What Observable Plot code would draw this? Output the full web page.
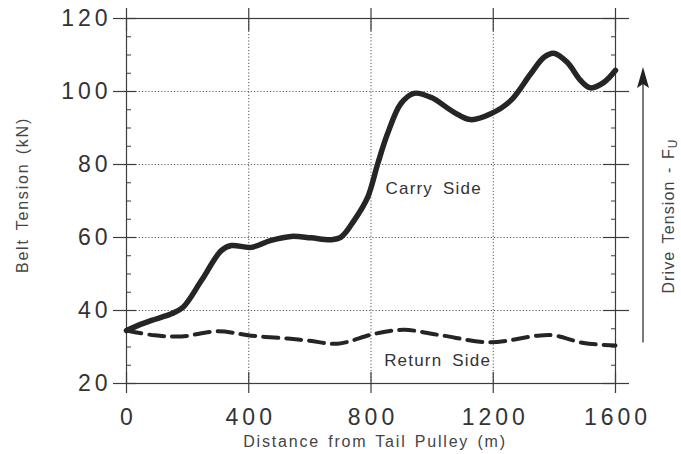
<!DOCTYPE html>
<html><head><meta charset="utf-8">
<script src="https://cdn.jsdelivr.net/npm/d3@7"></script>
<script src="https://cdn.jsdelivr.net/npm/@observablehq/plot@0.6"></script>
<style>
body{margin:0;background:#fff;}
svg text{font-family:"Liberation Sans",Arial,Helvetica,sans-serif;}
g[aria-label="y-axis tick label"] text, g[aria-label="x-axis tick label"] text{letter-spacing:4px;}
</style></head><body><div id="chart"></div>
<script>
// Carry side (solid)
const carryX = [0, 40, 82, 147, 185, 245, 310, 343, 408, 473, 539, 604, 669, 702, 745, 789, 822, 854, 898, 941, 996, 1072, 1126, 1192, 1257, 1322, 1366, 1398, 1442, 1486, 1518, 1562, 1600];
const carryY = [34.5, 36, 37.3, 39.1, 40.9, 48.2, 56.4, 57.8, 57.3, 59.2, 60.3, 59.9, 59.4, 60.1, 64.7, 71, 80.2, 88.4, 96.7, 99.5, 98.4, 94.3, 92.3, 93.9, 97.5, 104.8, 109.4, 110.5, 108, 103, 101, 102.5, 105.8];
// Return side (dashed)
const returnX = [0, 92, 180, 299, 408, 528, 600, 691, 811, 909, 1029, 1192, 1344, 1398, 1496, 1600];
const returnY = [34.5, 33.2, 32.9, 34.3, 33.1, 32.3, 31.7, 30.9, 33.6, 34.7, 33.2, 31.3, 33.1, 33.2, 31.1, 30.4];
// Ticks
const xTicks = [0, 400, 800, 1200, 1600];
const yTicks = [20, 40, 60, 80, 100, 120];
const yMinor = [25, 30, 35, 45, 50, 55, 65, 70, 75, 85, 90, 95, 105, 110, 115];
const xGrid = [400, 800, 1200];
const yGrid = [40, 60, 80, 100];
// Annotations
const curveLabels = ["Carry Side", "Return Side"];
const curveLabelX = [1005, 1018];
const curveLabelY = [73.4, 26.3];
const driveArrow = {x: 1690, from: 31.2, to: 104};

const carry = carryX.map((x, i) => ({x, y: carryY[i]}));
const ret = returnX.map((x, i) => ({x, y: returnY[i]}));

const lineColor = "#252525", axisColor = "#3c3c3c", textColor = "#333";
const arrowHead = {draw(ctx){ ctx.moveTo(0,-10); ctx.lineTo(6,11); ctx.lineTo(0,7); ctx.lineTo(-6,11); ctx.closePath(); }};

const chart = Plot.plot({
  width: 681, height: 454,
  marginLeft: 126, marginRight: 66, marginTop: 18, marginBottom: 71,
  x: {domain: [0, 1600]},
  y: {domain: [20, 120]},
  style: {background: "#fff", color: textColor, fontFamily: "Liberation Sans, Arial, sans-serif"},
  marks: [
    Plot.gridY(yGrid, {stroke: "#555", strokeOpacity: 1, strokeDasharray: "1.2,2"}),
    Plot.gridX(xGrid, {stroke: "#555", strokeOpacity: 1, strokeDasharray: "1.2,2"}),
    Plot.frame({stroke: axisColor, strokeWidth: 1.2}),
    // major crossing ticks
    Plot.axisY(yTicks, {anchor: "left", tickSize: 23, dx: 10, fill: "none", label: null, stroke: axisColor, strokeWidth: 1.2}),
    Plot.axisY(yTicks, {anchor: "right", tickSize: 26, dx: -13, fill: "none", label: null, stroke: axisColor, strokeWidth: 1.2}),
    Plot.axisX(xTicks, {anchor: "bottom", tickSize: 21, dy: -11, fill: "none", label: null, stroke: axisColor, strokeWidth: 1.2}),
    Plot.axisX(xTicks, {anchor: "top", tickSize: 23, dy: 12, fill: "none", label: null, stroke: axisColor, strokeWidth: 1.2}),
    // minor inward ticks
    Plot.axisY(yMinor, {anchor: "left", tickSize: 5, dx: 5, fill: "none", label: null, stroke: axisColor}),
    Plot.axisY(yMinor, {anchor: "right", tickSize: 5, dx: -5, fill: "none", label: null, stroke: axisColor}),
    // tick labels
    Plot.axisY(yTicks, {anchor: "left", tickSize: 0, tickPadding: 15, fontSize: 23, tickFormat: d => String(d), label: null, fill: textColor}),
    Plot.axisX(xTicks, {anchor: "bottom", tickSize: 0, tickPadding: 25, fontSize: 23, dx: 2, tickFormat: d => String(d), label: null, fill: textColor}),
    // axis titles
    Plot.text(["Belt Tension (kN)"], {text: d => d, frameAnchor: "left", textAnchor: "middle", lineAnchor: "middle", dx: -104, dy: -6, rotate: -90, fontSize: 16, fill: "#444"}),
    Plot.text(["Distance from Tail Pulley (m)"], {text: d => d, frameAnchor: "bottom", textAnchor: "middle", lineAnchor: "middle", dx: 4, dy: 58, fontSize: 16, fill: "#444"}),
    Plot.text(["Drive Tension - F"], {text: d => d, frameAnchor: "right", textAnchor: "middle", lineAnchor: "middle", dx: 53, dy: 15, rotate: -90, fontSize: 16, fill: "#444"}),
    // curves
    Plot.line(carry, {x: "x", y: "y", curve: "catmull-rom", stroke: lineColor, strokeWidth: 5.5}),
    Plot.line(ret, {x: "x", y: "y", curve: "catmull-rom", stroke: lineColor, strokeWidth: 4, strokeDasharray: "15,8"}),
    Plot.text(curveLabels, {x: curveLabelX, y: curveLabelY, text: curveLabels, fontSize: 17, fill: "#333"}),
    // drive arrow
    Plot.link([driveArrow], {x1: "x", x2: "x", y1: "from", y2: "to", stroke: "#333", strokeWidth: 1.3}),
    Plot.dot([driveArrow], {x: "x", y: "to", symbol: arrowHead, r: 8, fill: "#222", stroke: "none"})
  ]
});
document.getElementById("chart").append(chart);

// Post-processing: letter spacing & subscript
d3.select(chart).selectAll("text").each(function() {
  const t = this.textContent;
  const s = d3.select(this);
  if (t === "Belt Tension (kN)" || t === "Distance from Tail Pulley (m)") s.style("letter-spacing", "1.8px").style("word-spacing", "2px");
  if (t === "Carry Side" || t === "Return Side") s.style("letter-spacing", "1.2px").style("word-spacing", "4px");
  if (t === "Drive Tension - F") {
    s.style("letter-spacing", "1.1px").style("word-spacing", "2px");
    s.append("tspan").attr("font-size", 12).attr("dy", "0.3em").text("U");
  }
});
</script></body></html>
